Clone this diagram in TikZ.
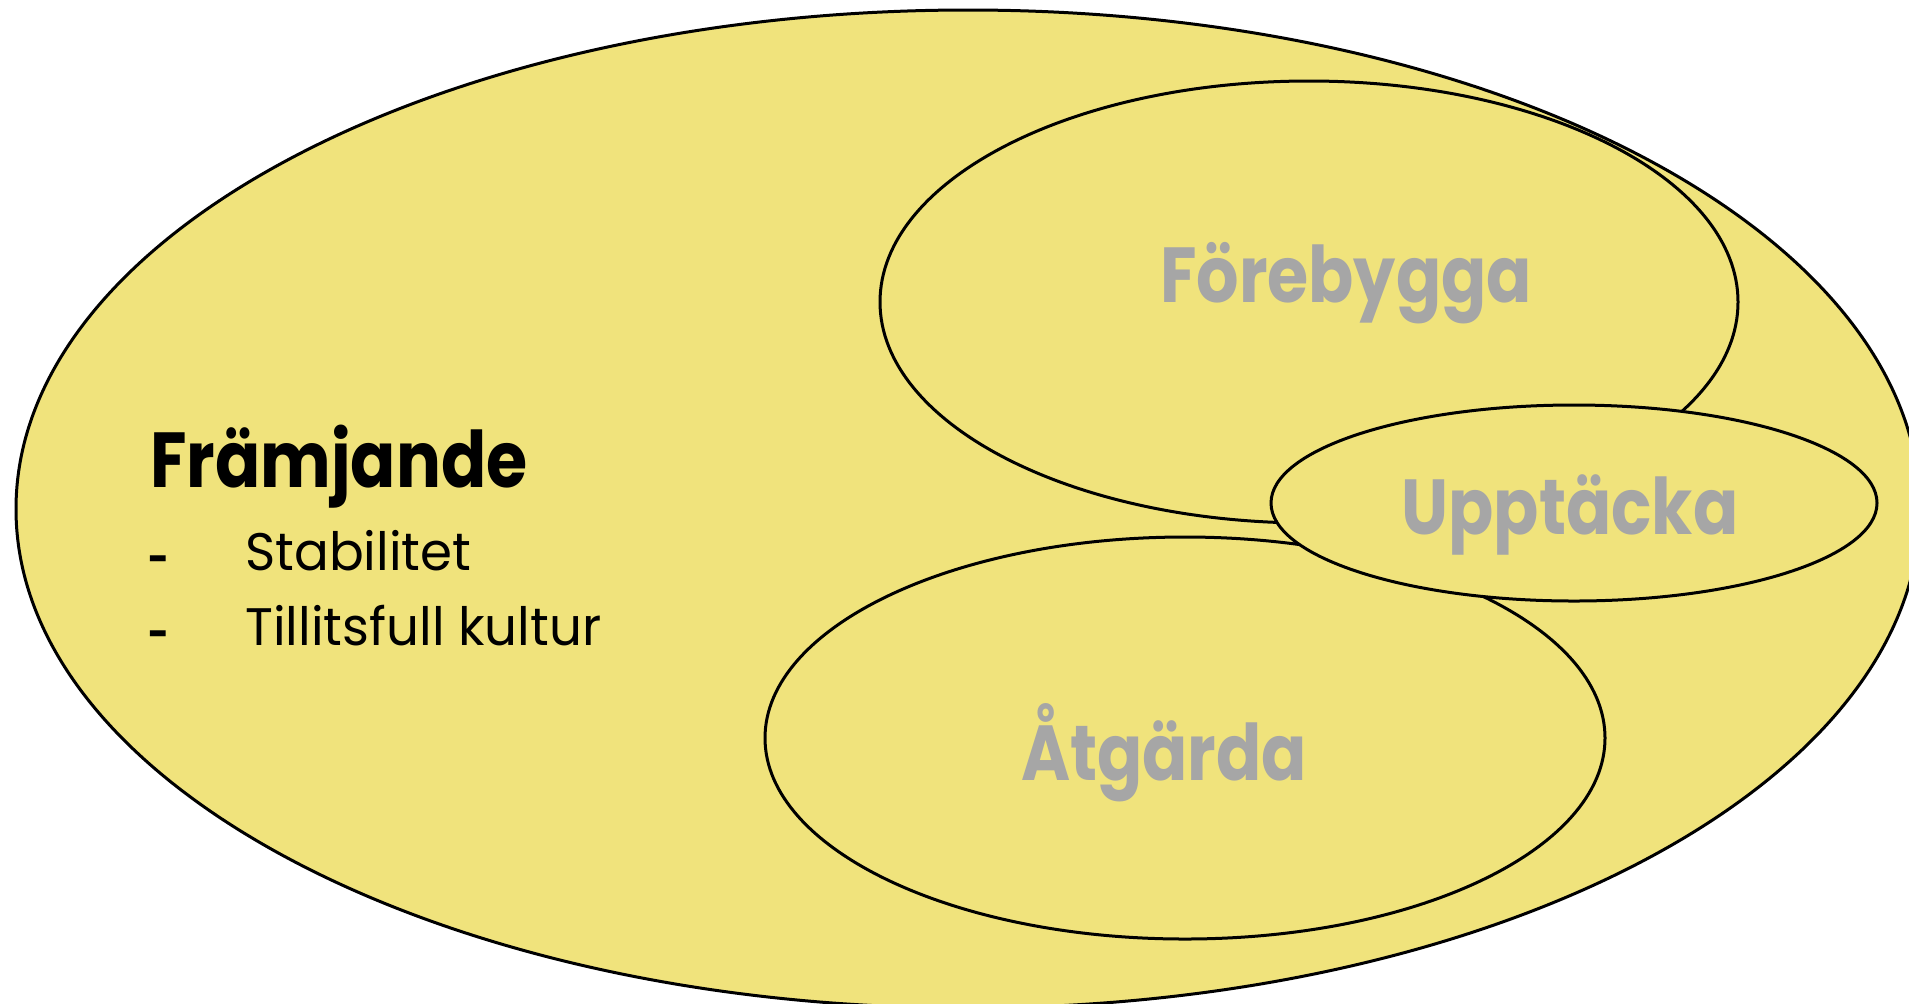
\documentclass[tikz,border=0pt]{standalone}
\usepackage{fontspec}
\setmainfont{Poppins}[FakeStretch=0.975]
\newfontfamily\narrowpop{Poppins}[FakeStretch=0.855]
\usetikzlibrary{shapes.geometric}
\definecolor{fillyel}{RGB}{240,227,124}
\definecolor{lblgray}{RGB}{166,166,166}
\tikzset{
  blob/.style={ellipse, draw=black, line width=1.5pt, fill=fillyel, inner sep=0pt, outer sep=0pt},
  biglbl/.style={font=\narrowpop\fontsize{39}{47}\selectfont\bfseries, inner sep=0pt},
  graylbl/.style={biglbl, text=lblgray, anchor=base},
  itemlbl/.style={font=\fontsize{26.4}{32}\selectfont, inner sep=0pt, anchor=base west},
  dashlbl/.style={font=\narrowpop\fontsize{21}{26}\selectfont\bfseries, inner sep=0pt, anchor=base west}
}
\begin{document}
\begin{tikzpicture}[x=0.5pt,y=-0.5pt]
\useasboundingbox (0,0) rectangle (1909,1003);
\clip (0,0) rectangle (1909,1003);
\node[blob, minimum width=952pt, minimum height=499pt] (main) at (968,509) {};
\node[blob, minimum width=429pt, minimum height=221pt] (fore) at (1309,302) {};
\node[blob, minimum width=420pt, minimum height=201pt] (atg) at (1185,738) {};
\node[blob, minimum width=303pt, minimum height=98pt] (upp) at (1574,503) {};
\node[graylbl] (lfore) at (1346,302) {Förebygga};
\node[graylbl] (lupp) at (1570,534) {Upptäcka};
\node[graylbl] (latg) at (1164,780) {Åtgärda};
\node[biglbl, anchor=base west] (lfram) at (150,487) {Främjande};
\node[dashlbl] (d1) at (148,573) {-};
\node[itemlbl] (i1) at (245,570) {Stabilitet};
\node[dashlbl] (d2) at (148,648) {-};
\node[itemlbl] (i2) at (245,645) {Tillitsfull kultur};
\end{tikzpicture}
\end{document}
